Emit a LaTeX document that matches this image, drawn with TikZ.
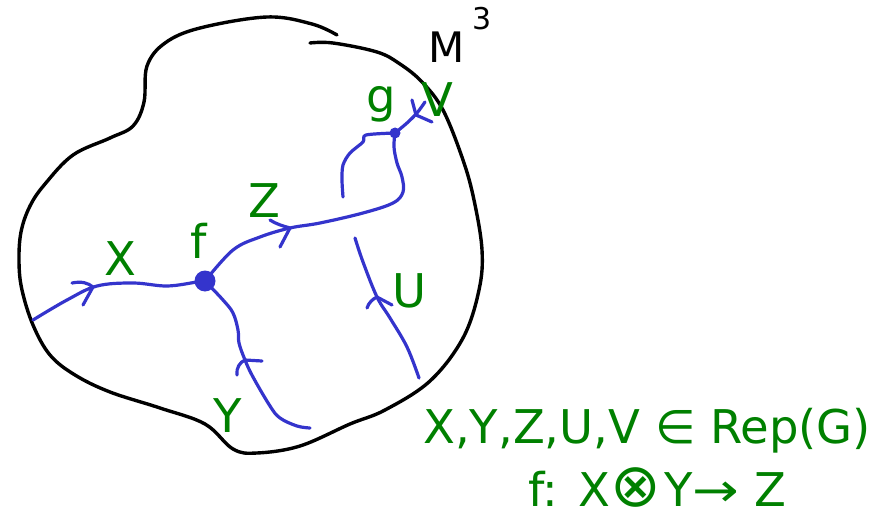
\documentclass[tikz,border=0pt]{standalone}
\usepackage{fontspec}
\usepackage{graphicx}
\setmainfont{DejaVu Sans}
\begin{document}
\begin{tikzpicture}[x=1pt,y=-1pt,
  outline/.style={line width=3.4pt,black,line cap=round,line join=round},
  strand/.style={line width=3.2pt,draw=bluelin,line cap=round,line join=round},
  lbl/.style={text=greenlbl,font=\fontsize{46.5}{52}\selectfont,inner sep=0pt,anchor=base},
  vtx/.style={circle,fill=bluelin,inner sep=0pt}]
\definecolor{bluelin}{RGB}{52,52,204}
\definecolor{greenlbl}{RGB}{0,128,0}
\useasboundingbox (0,0) rectangle (892,516);
% manifold outline
\draw[outline] plot[smooth,tension=0.6] coordinates {(310,43) (333,43) (377,52) (400,64) (422,82) (443,110) (463,160) (474,200) (482,250) (479,290) (463,338) (430,381) (385,410) (350,424) (300,446) (257,453) (233,449) (205,424) (160,408) (110,392) (75,375) (50,355) (33,325) (22,290) (19,262) (21,232) (30,206) (45,184) (73,155) (110,138) (133,126) (144,102) (147,66) (165,43) (200,28) (267,17) (312,24) (337,35)};
% vertices
\node[vtx,minimum size=21pt] (f) at (205,281) {};
\node[vtx,minimum size=11pt] (g) at (395,133) {};
\coordinate (xs) at (33,320);
\coordinate (ys) at (310,428);
\coordinate (us) at (419,378);
\coordinate (ue) at (355,238);
\coordinate (ge) at (343,197);
\coordinate (ve) at (425,102);
% edges
\draw[strand] plot[smooth,tension=0.6] coordinates {(xs) (67,300) (97,286) (133,283) (167,286) (197,282) (f)};
\draw[strand] plot[smooth,tension=0.6] coordinates {(f) (233,250) (260,237) (290,228) (320,223) (363,213) (393,203) (403,192) (402,177) (397,163) (394,147) (g)};
\draw[strand] plot[smooth,tension=0.5] coordinates {(g) (366,135) (363,142) (350,153) (343,165) (342,180) (ge)};
\draw[strand] plot[smooth,tension=0.5] coordinates {(g) (407,123) (417,113) (ve)};
\draw[strand] plot[smooth,tension=0.6] coordinates {(us) (407,347) (390,318) (377,297) (363,262) (ue)};
\draw[strand] plot[smooth,tension=0.6] coordinates {(ys) (297,426) (280,418) (270,406) (253,377) (245,360) (239,343) (238,330) (233,313) (223,300) (f)};
% arrowheads
\draw[strand] (72,283) .. controls (82,281) and (88,283) .. (93,287) -- (83,305);
\draw[strand] (270,220) .. controls (276,224) and (283,226) .. (290,228) -- (280,247);
\draw[strand] (367,308) .. controls (369,302) and (373,299) .. (377,297) -- (392,305);
\draw[strand] (237,375) .. controls (236,368) and (240,362) .. (245,360) -- (262,361);
\draw[strand] (412,100) -- (416,115) -- (432,122);
% labels
\node[lbl] (lx) at (120,275) {X};
\node[lbl] (lf) at (199,258) {f};
\node[lbl] (lz) at (264,217) {Z};
\node[lbl] (lg) at (381,113) {g};
\node[lbl] (lv) at (437,117) {V};
\node[lbl] (lu) at (410,307) {U};
\node[lbl] (ly) at (228,432) {Y};
\node[inner sep=0pt,anchor=base west,font=\fontsize{42}{46}\selectfont] (lm) at (428,63) {M};
\node[inner sep=0pt,anchor=base west,font=\fontsize{30}{32}\selectfont] (l3) at (472,30) {3};
\node[lbl,anchor=base west] (rep) at (423,443) {X,Y,Z,U,V ∈ Rep(G)};
\node[lbl,anchor=base west] (fmap) at (528,506) {f: X\scalebox{1.3}{⊗}\hspace{0.08em}Y\scalebox{1.2}[1]{→} Z};
\end{tikzpicture}
\end{document}
